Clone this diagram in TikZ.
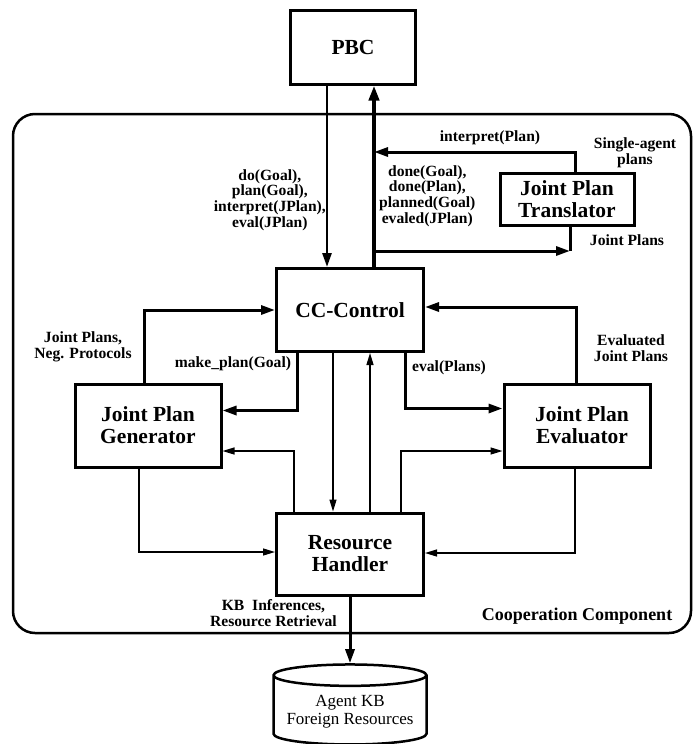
\documentclass[tikz,border=0pt]{standalone}
\usepackage{fontspec}
\setmainfont{Liberation Serif}
\usetikzlibrary{arrows.meta,shapes.geometric}

\begin{document}
\begin{tikzpicture}[
        x=1pt, y=-1pt,
        box/.style={rectangle, draw, line width=3pt, align=center, inner sep=0pt, font=\fontsize{21.5}{22}\selectfont\bfseries},
        lbl/.style={align=center, inner sep=0pt, font=\fontsize{15.6}{15.6}\selectfont\bfseries},
        container/.style={rectangle, draw, rounded corners=22pt, line width=2.5pt},
        store/.style={cylinder, shape border rotate=90, aspect=0.16, draw, line width=2.5pt, align=center, font=\fontsize{17}{18}\selectfont},
        thinarrow/.style={-{Triangle[length=12pt,width=7pt]}, line width=1.3pt},
        arrow/.style={-{Triangle[length=14pt,width=9pt]}, line width=3pt},
        midarrow/.style={-{Triangle[length=14pt,width=9pt]}, line width=2.6pt},
        mainarrow/.style={-{Triangle[length=15pt,width=10pt]}, line width=4pt}
    ]
    \useasboundingbox (0,0) rectangle (694,744);

    % Cooperation Component frame
    \node[container, minimum width=678pt, minimum height=519pt] (coop) at (352,373.5) {};
    \node[lbl, font=\fontsize{18}{19}\selectfont\bfseries] (cclbl) at (577,616) {Cooperation Component};

    % Components
    \node[box, minimum width=125pt, minimum height=74pt] (pbc) at (353,47) {PBC};
    \node[box, minimum width=147pt, minimum height=83pt] (cc) at (350,310) {CC-Control};
    \node[box, minimum width=134pt, minimum height=52pt] (jpt) at (567,199) {Joint Plan\\Translator};
    \node[box, minimum width=146pt, minimum height=83pt] (jpg) at (148,425.5) {Joint Plan\\Generator};
    \node[box, minimum width=146pt, minimum height=83pt] (jpe) at (577,425.5) {\hspace*{10pt}Joint Plan\\\hspace*{10pt}Evaluator};
    \node[box, minimum width=147pt, minimum height=82pt] (rh) at (350,554) {Resource\\Handler};
    \node[store, minimum width=153pt, minimum height=80pt] (kb) at (350,712) {Agent KB\\Foreign Resources};

    % PBC <-> CC-Control
    \draw[midarrow] ([xshift=-26pt]pbc.south) -- ([xshift=-23pt]cc.north);
    \draw[mainarrow] ([xshift=24pt]cc.north) -- ([xshift=21pt]pbc.south);
    \node[lbl, anchor=east] (dolbl) at (326,200) {do(Goal),\\plan(Goal),\\interpret(JPlan),\\eval(JPlan)};
    \node[lbl, anchor=west] (donelbl) at (379,196) {done(Goal),\\done(Plan),\\planned(Goal)\\evaled(JPlan)};

    % Translator
    \coordinate (upinterp) at (374,152);
    \coordinate (upjoin) at (374,251);
    \coordinate (jptfoot) at (570,251);
    \draw[arrow] ([xshift=8pt]jpt.north) |- (upinterp);
    \draw[line width=3pt] ([xshift=3pt]jpt.south) -- (jptfoot);
    \draw[arrow] (upjoin) -- (jptfoot);
    \node[lbl] (interplbl) at (490,138) {interpret(Plan)};
    \node[lbl] (singlelbl) at (635,153) {Single-agent\\plans};
    \node[lbl] (jplbl) at (627,240) {Joint Plans};

    % Generator and Evaluator
    \draw[arrow] ([xshift=-4pt]jpg.north) |- (cc.west);
    \draw[arrow] ([xshift=-1pt]jpe.north) |- ([yshift=3pt]cc.east);
    \draw[arrow] ([xshift=-53pt]cc.south) |- ([yshift=15pt]jpg.east);
    \draw[arrow] ([xshift=55pt]cc.south) |- ([yshift=17pt]jpe.west);
    \node[lbl] (neglbl) at (83,347) {Joint Plans,\\Neg. Protocols};
    \node[lbl] (evjplbl) at (631,348) {Evaluated\\Joint Plans};
    \node[lbl] (mklbl) at (233,364) {make\_plan(Goal)};
    \node[lbl] (evallbl) at (449,368) {eval(Plans)};

    % Resource Handler
    \draw[thinarrow] ([xshift=-17pt]cc.south) -- ([xshift=-17pt]rh.north);
    \draw[thinarrow] ([xshift=20pt]rh.north) -- ([xshift=20pt]cc.south);
    \draw[thinarrow] ([xshift=-56pt]rh.north) |- ([yshift=-25.5pt]jpg.east);
    \draw[thinarrow] ([xshift=51pt]rh.north) |- ([yshift=-25.5pt]jpe.west);
    \draw[thinarrow] ([xshift=-9pt]jpg.south) |- ([yshift=2pt]rh.west);
    \draw[thinarrow] ([xshift=-2pt]jpe.south) |- ([yshift=1pt]rh.east);

    % Knowledge base
    \draw[arrow] (rh.south) -- (kb.north);
    \node[lbl, anchor=east] (kblbl) at (337,613) {KB\ \ Inferences,\\Resource Retrieval};

\end{tikzpicture}
\end{document}
